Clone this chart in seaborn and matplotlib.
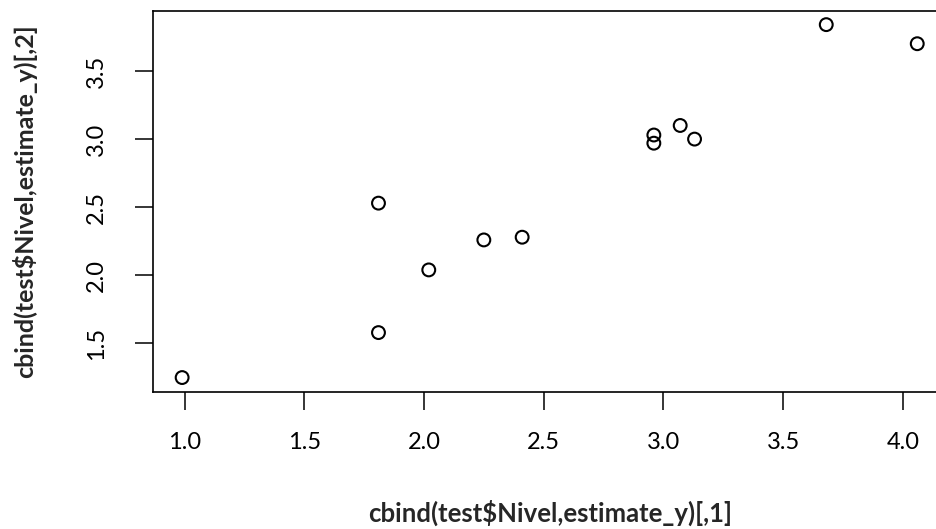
import matplotlib
matplotlib.use("Agg")
import matplotlib.pyplot as plt
import seaborn as sns
import pandas as pd

# values
nivel = [0.99, 1.81, 1.81, 2.02, 2.25, 2.41, 2.96, 2.96, 3.07, 3.13, 3.68, 4.06]
estimate_y = [1.25, 2.53, 1.58, 2.04, 2.26, 2.28, 3.03, 2.97, 3.10, 3.00, 3.84, 3.70]
x_ticks = [1.0, 1.5, 2.0, 2.5, 3.0, 3.5, 4.0]
y_ticks = [1.5, 2.0, 2.5, 3.0, 3.5]

df = pd.DataFrame({"x": nivel, "y": estimate_y})

sns.set_theme(style="ticks")
plt.rcParams["font.family"] = ["Lato", "DejaVu Sans"]

fig = plt.figure(figsize=(9.37, 5.29), dpi=100)
# the reference is cropped: the right side of the box runs past the image edge
ax = fig.add_axes([0.163, 0.2596, 0.8473, 0.7205])

sns.scatterplot(data=df, x="x", y="y", ax=ax, marker="o", s=85,
                facecolors="none", edgecolor="black", linewidth=1.5)


def r_lim(v):
    # R's default 4% axis extension
    lo, hi = min(v), max(v)
    d = (hi - lo) * 0.04
    return lo - d, hi + d


ax.set_xlim(*r_lim(nivel))
ax.set_ylim(*r_lim(estimate_y))
ax.set_xticks(x_ticks)
ax.set_yticks(y_ticks)
ax.set_xticklabels([f"{t:.1f}" for t in x_ticks])
ax.set_yticklabels([f"{t:.1f}" for t in y_ticks], rotation=90, va="center")

for s in ax.spines.values():
    s.set_visible(True)
    s.set_linewidth(1.2)
    s.set_color("black")

ax.tick_params(axis="both", direction="out", length=13, width=1.1,
               color="black", labelsize=17, labelcolor="black")
ax.tick_params(axis="x", pad=16)
ax.tick_params(axis="y", pad=20)

ax.set_xlabel("cbind(test$Nivel,estimate_y)[,1]", fontsize=18.5, fontweight="bold")
ax.set_ylabel("cbind(test$Nivel,estimate_y)[,2]", fontsize=18, fontweight="bold")
ax.xaxis.set_label_coords(0.5, -0.284)
ax.yaxis.set_label_coords(-0.146, 0.5)

fig.savefig("out.png", dpi=100)
